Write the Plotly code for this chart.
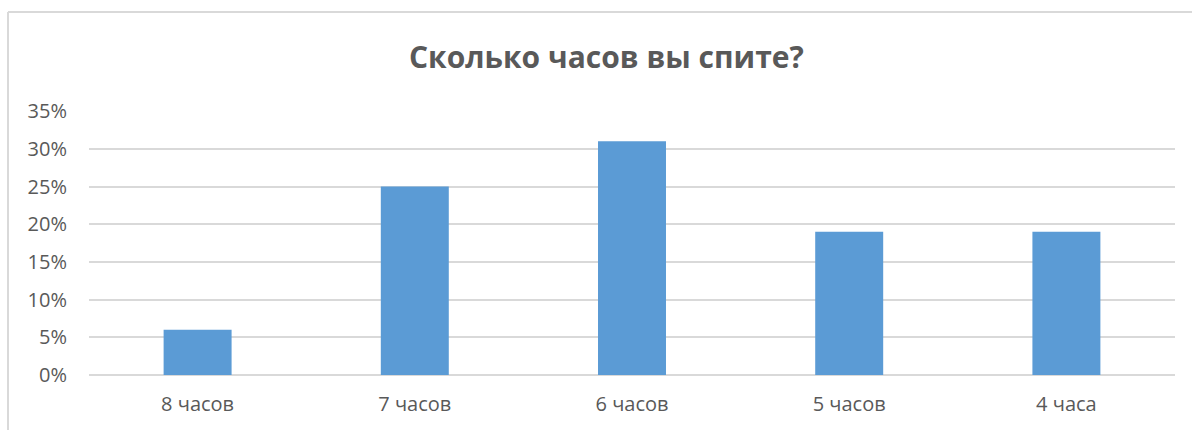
import plotly.graph_objects as go

# Survey results: hours of sleep per night
categories = ["8 часов", "7 часов", "6 часов", "5 часов", "4 часа"]
shares = [0.06, 0.25, 0.31, 0.19, 0.19]
y_ticks = [0, 0.05, 0.10, 0.15, 0.20, 0.25, 0.30, 0.35]

W, H = 1192, 430
L, R, T, B = 89, 17, 111, 55
plot_w = W - L - R
plot_h = H - T - B

def px_x(px):
    return (px - L) / plot_w

def px_y(py):
    return (H - B - py) / plot_h

GRID = "#d9d9d9"
TEXT = "#595959"
FONT = "Open Sans, Lato, sans-serif"

fig = go.Figure(
    go.Bar(
        x=categories,
        y=shares,
        marker=dict(color="#5b9bd5", line=dict(width=0)),
        hoverinfo="x+y",
    )
)

fig.update_layout(
    width=W,
    height=H,
    margin=dict(l=L, r=R, t=T, b=B),
    paper_bgcolor="white",
    plot_bgcolor="white",
    bargap=0.687,
    showlegend=False,
    font=dict(family=FONT, color=TEXT, size=20),
)

fig.update_yaxes(
    range=[0, 0.3502],
    tickvals=y_ticks,
    tickformat=".0%",
    showgrid=True,
    gridcolor=GRID,
    gridwidth=1.5,
    zeroline=True,
    zerolinecolor=GRID,
    zerolinewidth=1.5,
    showline=False,
    ticks="",
    ticklabelstandoff=21,
    tickfont=dict(size=20, color=TEXT),
)

fig.update_xaxes(
    showgrid=False,
    showline=False,
    ticks="",
    ticklabelstandoff=15,
    tickfont=dict(size=20, color=TEXT),
)

# Title
fig.add_annotation(
    text="<b>Сколько часов вы спите?</b>",
    xref="paper", yref="paper",
    x=px_x(606), y=px_y(57),
    xanchor="center", yanchor="middle",
    showarrow=False,
    font=dict(family=FONT, size=30, color=TEXT),
)

# Chart frame (top and left edges)
fig.add_shape(type="line", xref="paper", yref="paper",
              x0=px_x(8), x1=px_x(W + 5), y0=px_y(12), y1=px_y(12),
              line=dict(color=GRID, width=2), layer="below")
fig.add_shape(type="line", xref="paper", yref="paper",
              x0=px_x(8), x1=px_x(8), y0=px_y(12), y1=px_y(H + 5),
              line=dict(color=GRID, width=2), layer="below")

fig.write_html("out.html")
